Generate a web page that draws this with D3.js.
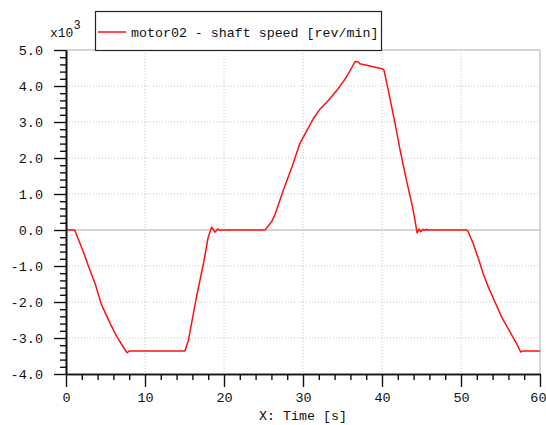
<!DOCTYPE html>
<html>
<head>
<meta charset="utf-8">
<script src="https://cdn.jsdelivr.net/npm/d3@7"></script>
<style>
  html, body { margin: 0; padding: 0; background: #fff; }
  svg { display: block; }
  text { font-family: "Liberation Mono", "DejaVu Sans Mono", monospace; fill: #111; }
</style>
</head>
<body>
<svg id="chart" width="546" height="425"></svg>
<script>
// Simulation output: motor02 shaft speed over time
const timeS = [0, 1.1, 2.2, 3.0, 3.7, 4.5, 5.6, 6.4, 7.5, 7.75, 8.0, 15.05, 15.5, 16.5, 17.4, 18.0, 18.45, 18.85, 19.2, 19.45, 19.7,
  25.2, 26.0, 26.5, 27.5, 28.6, 29.6, 30.5, 31.3, 32.2, 33.2, 34.3, 35.5, 36.6, 37.0, 37.2, 40.0, 40.25,
  40.8, 41.65, 42.3, 43.1, 43.95, 44.45, 44.7, 44.9, 45.2, 45.4, 45.6, 45.8,
  50.7, 50.9, 51.55, 52.2, 52.8, 53.45, 54.3, 55.15, 56.2, 57.05, 57.55, 57.8, 60];
const shaftSpeed = [0, 0, -610, -1100, -1500, -2080, -2600, -2950, -3340, -3410, -3360, -3360, -3060, -1880, -930, -200, 80, -60, 30, -10, 0,
  0, 220, 460, 1100, 1750, 2400, 2770, 3090, 3370, 3600, 3880, 4250, 4680, 4670, 4620, 4480, 4440,
  3880, 2960, 2210, 1380, 550, -80, 30, -50, 20, -10, 20, 0,
  0, -40, -380, -790, -1210, -1580, -2000, -2420, -2830, -3160, -3390, -3360, -3360];

const xTicks = [0, 10, 20, 30, 40, 50, 60];
const yTicks = [-4000, -3000, -2000, -1000, 0, 1000, 2000, 3000, 4000, 5000];
const seriesLabel = "motor02 - shaft speed [rev/min]";
const xTitle = "X: Time [s]";

const svg = d3.select("#chart");
const plotL = 66, plotR = 540, plotT = 50, plotB = 374;

const x = d3.scaleLinear().domain([0, 60]).range([plotL, plotR]);
const y = d3.scaleLinear().domain([-4000, 5000]).range([plotB, plotT]);

const xMinor = d3.range(0, 60.001, 2).filter(v => v % 10 !== 0);
const yMinor = d3.range(-4000, 5000.1, 200).filter(v => v % 1000 !== 0);

// dotted grid
const grid = svg.append("g");
grid.selectAll("line.gx").data(xTicks.filter(v => v > 0 && v < 60)).join("line")
  .attr("x1", d => x(d)).attr("x2", d => x(d)).attr("y1", plotT).attr("y2", plotB)
  .attr("stroke", "#c4c4c4").attr("stroke-width", 1).attr("stroke-dasharray", "1,2");
grid.selectAll("line.gy").data(yTicks.filter(v => v !== 0 && v > -4000 && v < 5000)).join("line")
  .attr("x1", plotL).attr("x2", plotR).attr("y1", d => y(d)).attr("y2", d => y(d))
  .attr("stroke", "#c4c4c4").attr("stroke-width", 1).attr("stroke-dasharray", "1,2");

// zero line and light frame
svg.append("line").attr("x1", plotL).attr("x2", plotR).attr("y1", y(0)).attr("y2", y(0))
  .attr("stroke", "#c8c8c8").attr("stroke-width", 1.5);
svg.append("line").attr("x1", plotL).attr("x2", plotR).attr("y1", y(5000)).attr("y2", y(5000))
  .attr("stroke", "#c8c8c8").attr("stroke-width", 1.5);
svg.append("line").attr("x1", x(60)).attr("x2", x(60)).attr("y1", plotT).attr("y2", plotB)
  .attr("stroke", "#c8c8c8").attr("stroke-width", 1.5);

// series
const line = d3.line().x((d, i) => x(timeS[i])).y(d => y(d));
svg.append("path").datum(shaftSpeed)
  .attr("d", line).attr("fill", "none").attr("stroke", "#ff1010").attr("stroke-width", 1.5)
  .attr("stroke-linejoin", "round");

// axes
function styleAxis(g) {
  g.select(".domain").attr("stroke", "#111").attr("stroke-width", 1.6);
  g.selectAll(".tick line").attr("stroke", "#111").attr("stroke-width", 1.4);
  g.selectAll("text").style("font-size", "13.5px").attr("fill", "#111");
}
const xAxisMinor = svg.append("g").attr("transform", `translate(0,${plotB})`)
  .call(d3.axisBottom(x).tickValues(xMinor).tickSize(6).tickSizeOuter(0).tickFormat(""));
styleAxis(xAxisMinor);
const xAxis = svg.append("g").attr("transform", `translate(0,${plotB})`)
  .call(d3.axisBottom(x).tickValues(xTicks).tickSize(13).tickSizeOuter(0).tickPadding(5).tickFormat(d3.format("d")));
styleAxis(xAxis);
// keep the last label inside the canvas
xAxis.selectAll(".tick").filter(d => d === 60).select("text")
  .attr("text-anchor", "end").attr("x", 6);

const yAxisMinor = svg.append("g").attr("transform", `translate(${plotL},0)`)
  .call(d3.axisLeft(y).tickValues(yMinor).tickSize(6).tickSizeOuter(0).tickFormat(""));
styleAxis(yAxisMinor);
const yAxis = svg.append("g").attr("transform", `translate(${plotL},0)`)
  .call(d3.axisLeft(y).tickValues(yTicks).tickSize(12).tickSizeOuter(0).tickPadding(11)
    .tickFormat(d => d3.format(".1f")(d / 1000).replace("−", "-")));
styleAxis(yAxis);

// axis title and exponent
svg.append("text").attr("x", (plotL + plotR) / 2).attr("y", 420).attr("text-anchor", "middle")
  .style("font-size", "13.3px").text(xTitle);
const expo = svg.append("text").attr("x", 50).attr("y", 37).style("font-size", "13px");
expo.append("tspan").text("x10");
expo.append("tspan").attr("dy", -8).style("font-size", "12px").text("3");

// legend
const lg = svg.append("g");
lg.append("rect").attr("x", 95.5).attr("y", 11.5).attr("width", 286).attr("height", 39)
  .attr("fill", "#fff").attr("stroke", "#222").attr("stroke-width", 1.2);
lg.append("line").attr("x1", 98).attr("x2", 126).attr("y1", 32).attr("y2", 32)
  .attr("stroke", "#ff1010").attr("stroke-width", 1.5);
lg.append("text").attr("x", 131).attr("y", 37).style("font-size", "13.3px").text(seriesLabel);
</script>
</body>
</html>
